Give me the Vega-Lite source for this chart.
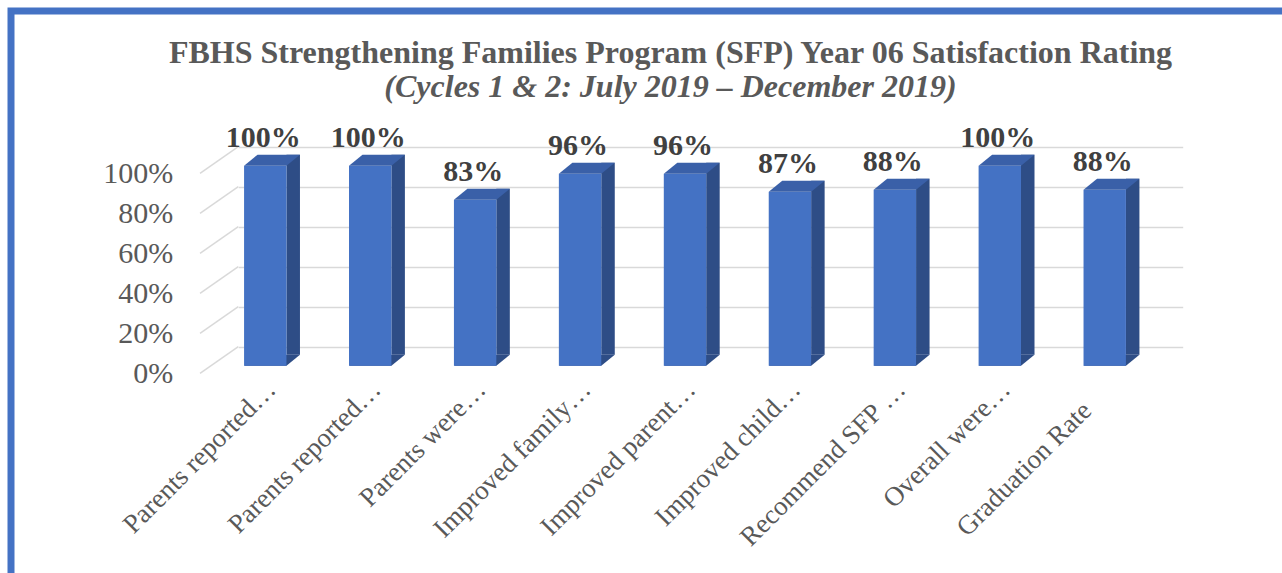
{
  "$schema": "https://vega.github.io/schema/vega-lite/v6.json",
  "width": 1271,
  "height": 562,
  "autosize": {"type": "none"},
  "padding": {"left": 11, "top": 11, "right": 0, "bottom": 0},
  "background": "white",
  "config": {
    "view": {"stroke": "#4472C4", "strokeWidth": 7, "strokeDash": [1271, 1833, 700], "strokeCap": "square", "fill": "white"}
  },
  "title": {
    "text": "FBHS Strengthening Families Program (SFP) Year 06 Satisfaction Rating",
    "subtitle": "(Cycles 1 & 2: July 2019 – December 2019)",
    "font": "Liberation Serif",
    "fontSize": 32,
    "fontWeight": "bold",
    "color": "#595959",
    "subtitleFont": "Liberation Serif",
    "subtitleFontSize": 32,
    "subtitleFontWeight": "bold",
    "subtitleFontStyle": "italic",
    "subtitleColor": "#595959",
    "subtitlePadding": 2,
    "anchor": "middle",
    "frame": "group",
    "dx": 24,
    "offset": -93
  },
  "data": {
    "values": [
      {"n": 1, "item": "Parents reported…", "value": 1.00},
      {"n": 2, "item": "Parents reported…", "value": 1.00},
      {"n": 3, "item": "Parents were…", "value": 0.83},
      {"n": 4, "item": "Improved family…", "value": 0.96},
      {"n": 5, "item": "Improved parent…", "value": 0.96},
      {"n": 6, "item": "Improved child…", "value": 0.87},
      {"n": 7, "item": "Recommend SFP …", "value": 0.88},
      {"n": 8, "item": "Overall were…", "value": 1.00},
      {"n": 9, "item": "Graduation Rate", "value": 0.88}
    ]
  },
  "encoding": {
    "x": {
      "field": "n",
      "type": "ordinal",
      "scale": {"range": [227.3, 1171.7], "paddingInner": 0, "paddingOuter": 0},
      "axis": {
        "title": null,
        "orient": "bottom",
        "offset": -188,
        "domain": false,
        "ticks": false,
        "tickSize": 0,
        "grid": false,
        "labelAngle": 315,
        "labelAlign": "right",
        "labelBaseline": "middle",
        "labelFont": "Liberation Serif",
        "labelFontSize": 27,
        "labelColor": "#595959",
        "labelLimit": 500,
        "labelOverlap": false,
        "labelOffset": {"condition": {"test": "datum.value === 9", "value": -43}, "value": -19},
        "labelPadding": {"condition": {"test": "datum.value === 9", "value": 21}, "value": 0},
        "labelExpr": "['Parents reported…','Parents reported…','Parents were…','Improved family…','Improved parent…','Improved child…','Recommend SFP …','Overall were…','Graduation Rate'][datum.value - 1]"
      }
    }
  },
  "layer": [
    {
      "data": {"values": [{"value": 0}, {"value": 0.2}, {"value": 0.4}, {"value": 0.6}, {"value": 0.8}, {"value": 1.0}]},
      "mark": {"type": "point", "shape": "M-1.049,0L-1.815,0.532", "size": 10000, "filled": false, "stroke": "#D9D9D9", "strokeWidth": 1.5, "opacity": 1},
      "encoding": {
        "x": {"datum": 1, "type": "ordinal"},
        "y": {
          "field": "value",
          "type": "quantitative",
          "scale": {"domain": [0, 1], "range": [335.7, 135.7], "nice": false},
          "axis": {
            "title": null,
            "values": [0, 0.2, 0.4, 0.6, 0.8, 1],
            "format": ".0%",
            "offset": -161.7,
            "domain": false,
            "ticks": false,
            "tickSize": 0,
            "labelPadding": 0,
            "labelOffset": 26.6,
            "labelFont": "Liberation Serif",
            "labelFontSize": 30,
            "labelColor": "#595959",
            "labelAlign": "right",
            "labelBaseline": "middle",
            "grid": true,
            "gridColor": "#D9D9D9",
            "gridWidth": 1.5
          }
        }
      }
    },
    {
      "mark": {"type": "bar", "width": 13.5, "xOffset": 2.45, "yOffset": 8, "y2Offset": 8, "color": "#2E4D86"},
      "encoding": {
        "y": {"field": "value", "type": "quantitative"},
        "y2": {"datum": 0}
      }
    },
    {
      "mark": {"type": "point", "shape": "M-0.424,0L0.424,0L0.694,-0.22L-0.154,-0.22Z", "size": 10000, "filled": true, "color": "#2E4D86", "strokeWidth": 0, "opacity": 1, "xOffset": -25.5, "yOffset": 19},
      "encoding": {
        "y": {"datum": 0, "type": "quantitative"}
      }
    },
    {
      "mark": {"type": "bar", "width": 42.4, "xOffset": -25.5, "yOffset": 19, "y2Offset": 19, "color": "#4472C4"},
      "encoding": {
        "y": {"field": "value", "type": "quantitative"},
        "y2": {"datum": 0}
      }
    },
    {
      "mark": {"type": "point", "shape": "M-0.424,0L0.424,0L0.694,-0.22L-0.154,-0.22Z", "size": 10000, "filled": true, "color": "#3A60A8", "strokeWidth": 0, "opacity": 1, "xOffset": -25.5, "yOffset": 19},
      "encoding": {
        "y": {"field": "value", "type": "quantitative"}
      }
    },
    {
      "mark": {"type": "text", "font": "Liberation Serif", "fontSize": 30, "fontWeight": "bold", "color": "#404040", "align": "center", "baseline": "alphabetic", "xOffset": -27.5, "yOffset": 0},
      "encoding": {
        "y": {"field": "value", "type": "quantitative"},
        "text": {"field": "value", "type": "quantitative", "format": ".0%"}
      }
    }
  ]
}
